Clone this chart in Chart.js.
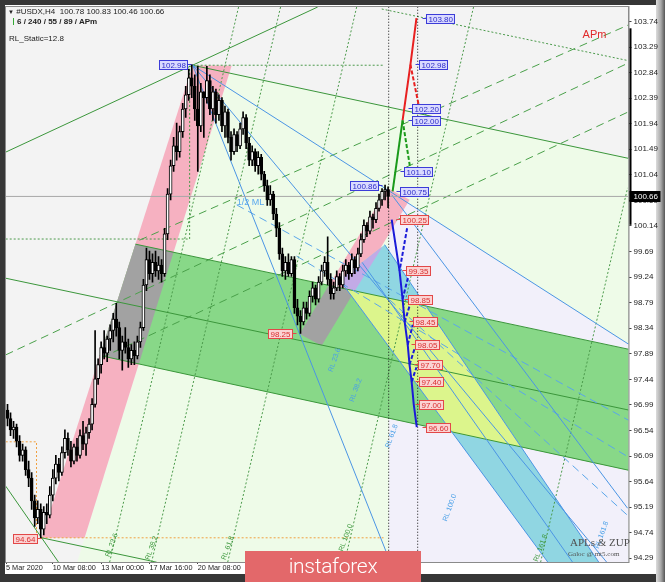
<!DOCTYPE html>
<html>
<head>
<meta charset="utf-8">
<script src="https://cdn.jsdelivr.net/npm/chart.js@4.4.1/dist/chart.umd.min.js"></script>
<style>
  html, body { margin: 0; padding: 0; }
  body { width: 665px; height: 582px; background: #363636; position: relative; overflow: hidden;
         font-family: "Liberation Sans", Arial, sans-serif; }
  #panel { position: absolute; left: 5px; top: 5px; width: 651px; height: 569px; background: #fff; }
  #bevel { position: absolute; left: 656px; top: 0; width: 9px; height: 582px;
           background: linear-gradient(to right, #dcdcdc, #a8a8a8 55%, #555); }
  #chart { position: absolute; left: 0; top: 0; width: 665px; height: 582px; }
  .txt { position: absolute; font-size: 8px; line-height: 10px; color: #222; white-space: nowrap; }
  #logo { position: absolute; left: 245px; top: 551px; width: 176px; height: 33px; background: #e3686a;
          color: #fff; font-family: Roboto, "Open Sans", sans-serif; font-weight: 300; font-size: 21px;
          line-height: 31px; text-align: center; letter-spacing: -0.3px; }
</style>
</head>
<body>
<div id="panel"></div>
<div id="bevel"></div>
<canvas id="chart" width="665" height="582"></canvas>
<div class="txt" style="left:8px;top:7px;"><span style="font-size:6px">&#9660;</span> #USDX,H4&nbsp; 100.78 100.83 100.46 100.66</div>
<div class="txt" style="left:13px;top:18px;width:1px;height:7px;background:#3a3;"></div>
<div class="txt" style="left:17px;top:17px;font-weight:bold;">6 / 240 / 55 / 89 / APm</div>
<div class="txt" style="left:9px;top:34px;">RL_Static=12.8</div>
<div class="txt" style="left:570px;top:537px;font-family:'Liberation Serif',serif;font-size:11px;color:#505050;">APLs &amp; ZUP</div>
<div class="txt" style="left:568px;top:549px;font-family:'Liberation Serif',serif;font-size:7px;color:#505050;">Galoc @ mt5.com</div>
<div id="logo">instaforex</div>
<script>
  'use strict';

  // H4 candles, bar index 0 = first visible bar
  var opens = [96.90, 96.75, 96.55, 96.60, 96.35, 96.10, 96.20, 95.85, 95.70, 95.30,
    95.00, 95.15, 94.80, 95.10, 95.05, 95.40, 95.70, 95.95, 95.80, 96.15,
    96.40, 96.20, 96.00, 96.25, 96.10, 96.45, 96.30, 96.50, 96.65, 97.00,
    97.45, 97.70, 98.00, 97.90, 98.15, 98.30, 98.50, 98.35, 97.95, 98.10,
    98.00, 97.80, 97.95, 97.85, 98.10, 98.35, 99.10, 99.55, 99.30, 99.50,
    99.35, 99.45, 99.30, 100.00, 100.70, 101.20, 101.55, 101.45, 101.80, 102.20,
    102.45, 102.75, 102.60, 102.20, 101.90, 102.50, 102.40, 102.70, 102.20, 102.50,
    102.10, 102.35, 101.90, 102.15, 101.70, 101.45, 101.75, 101.55, 101.85, 102.05,
    101.60, 101.30, 101.45, 101.20, 101.35, 101.05, 100.85, 100.60, 100.70, 100.35,
    100.10, 99.65, 99.35, 99.50, 99.30, 99.55, 98.70, 98.55, 98.45, 98.70,
    98.60, 98.90, 99.05, 98.85, 99.15, 99.35, 99.50, 99.20, 98.95, 99.05,
    99.25, 99.10, 99.35, 99.45, 99.30, 99.55, 99.40, 99.65, 99.90, 100.15,
    100.05, 100.30, 100.25, 100.45, 100.60, 100.75, 100.78];
  var highs = [97.00, 96.85, 96.70, 96.65, 96.45, 96.30, 96.25, 96.00, 95.80, 95.40,
    95.30, 95.25, 95.20, 95.25, 95.55, 95.85, 96.10, 96.05, 96.25, 96.55,
    96.50, 96.35, 96.30, 96.40, 96.55, 96.70, 96.60, 96.75, 97.10, 98.30,
    97.80, 98.10, 98.30, 98.20, 98.40, 98.60, 98.78, 98.45, 98.20, 98.35,
    98.15, 98.05, 98.10, 98.20, 98.45, 99.20, 99.75, 99.70, 99.65, 99.70,
    99.60, 99.55, 100.10, 100.80, 101.30, 101.70, 101.95, 101.90, 102.30, 102.60,
    102.90, 102.98, 102.80, 102.95, 102.65, 102.50, 102.95, 102.80, 102.60, 102.55,
    102.45, 102.40, 102.25, 102.20, 101.80, 101.85, 101.80, 101.95, 102.15, 102.10,
    101.70, 101.55, 101.50, 101.45, 101.40, 101.10, 100.95, 100.85, 100.75, 100.45,
    100.20, 99.75, 99.60, 99.65, 99.60, 99.60, 98.85, 98.65, 98.80, 98.80,
    99.00, 99.15, 99.10, 99.25, 99.45, 99.60, 99.95, 99.30, 99.15, 99.35,
    99.30, 99.45, 99.55, 99.50, 99.65, 99.60, 99.75, 100.00, 100.25, 100.20,
    100.40, 100.35, 100.55, 100.70, 100.80, 100.86, 100.83];
  var lows = [96.62, 96.45, 96.40, 96.25, 96.00, 96.00, 95.75, 95.55, 95.15, 94.85,
    94.90, 94.64, 94.70, 94.90, 95.00, 95.30, 95.60, 95.65, 95.75, 96.05,
    96.10, 95.90, 95.95, 96.00, 96.05, 96.20, 96.10, 96.40, 96.55, 96.95,
    97.35, 97.55, 97.80, 97.75, 97.95, 98.10, 98.20, 97.80, 97.60, 97.90,
    97.65, 97.70, 97.70, 97.80, 98.00, 98.30, 99.00, 99.20, 99.15, 99.25,
    99.20, 99.15, 99.25, 99.90, 100.60, 101.10, 101.30, 101.35, 101.70, 102.05,
    102.35, 102.40, 102.00, 101.10, 101.80, 101.70, 102.30, 102.10, 102.00, 101.95,
    102.00, 101.80, 101.70, 101.60, 101.30, 101.40, 101.45, 101.50, 101.75, 101.50,
    101.20, 101.20, 101.10, 101.05, 100.95, 100.75, 100.50, 100.50, 100.25, 99.95,
    99.55, 99.25, 99.20, 99.25, 99.25, 98.60, 98.40, 98.25, 98.40, 98.50,
    98.55, 98.80, 98.75, 98.80, 99.10, 99.25, 99.10, 98.85, 98.85, 99.00,
    99.00, 99.05, 99.25, 99.20, 99.25, 99.30, 99.35, 99.60, 99.85, 99.95,
    100.00, 100.10, 100.20, 100.40, 100.50, 100.60, 100.46];
  var closes = [96.75, 96.55, 96.60, 96.35, 96.10, 96.20, 95.85, 95.70, 95.30, 95.00,
    95.15, 94.80, 95.10, 95.05, 95.40, 95.70, 95.95, 95.80, 96.15, 96.40,
    96.20, 96.00, 96.25, 96.10, 96.45, 96.30, 96.50, 96.65, 97.00, 97.45,
    97.70, 98.00, 97.90, 98.15, 98.30, 98.50, 98.35, 97.95, 98.10, 98.00,
    97.80, 97.95, 97.85, 98.10, 98.35, 99.10, 99.55, 99.30, 99.50, 99.35,
    99.45, 99.30, 100.00, 100.70, 101.20, 101.55, 101.45, 101.80, 102.20, 102.45,
    102.75, 102.60, 102.20, 101.90, 102.50, 102.40, 102.70, 102.20, 102.50, 102.10,
    102.35, 101.90, 102.15, 101.70, 101.45, 101.75, 101.55, 101.85, 102.05, 101.60,
    101.30, 101.45, 101.20, 101.35, 101.05, 100.85, 100.60, 100.70, 100.35, 100.10,
    99.65, 99.35, 99.50, 99.30, 99.55, 98.70, 98.55, 98.45, 98.70, 98.60,
    98.90, 99.05, 98.85, 99.15, 99.35, 99.50, 99.20, 98.95, 99.05, 99.25,
    99.10, 99.35, 99.45, 99.30, 99.55, 99.40, 99.65, 99.90, 100.15, 100.05,
    100.30, 100.25, 100.45, 100.60, 100.75, 100.78, 100.66];
  var lastPrice = 100.66;

  // axes
  var priceTicks = [94.29, 94.74, 95.19, 95.64, 96.09, 96.54, 96.99, 97.44, 97.89, 98.34, 98.79,
    99.24, 99.69, 100.14, 100.59, 101.04, 101.49, 101.94, 102.39, 102.84, 103.29, 103.74];
  var timeTicks = [-0.5, 15, 31, 47, 63];
  var timeLabels = ['5 Mar 2020', '10 Mar 08:00', '13 Mar 00:00', '17 Mar 16:00', '20 Mar 08:00'];

  // zones and lines, points are [bar, price]
  var lightZone = [[21.7, 93.99], [73.44, 102.83], [207, 101.32], [207, 93.99]];
  var lilacZone = [[126.2, 100.76], [207, 98.01], [207, 93.99], [126.2, 93.99]];
  var pinkChannelA = [[11.29, 94.65], [61.29, 102.97], [74.2, 102.96], [25.53, 94.65]];
  var pinkChannelB = [[96.72, 98.24], [125.86, 100.81], [133.14, 100.60], [104.0, 98.03]];
  var greenBand = [[42.35, 99.82], [207, 97.95], [207, 95.82], [30.56, 97.86]];
  var cyanBand = [[109.96, 99.19], [124.87, 99.81], [198.7, 93.99], [182.1, 93.99]];
  var overlapA = [[42.35, 99.82], [54.99, 99.68], [43.47, 97.71], [30.56, 97.86]];
  var overlapB = [[96.72, 98.24], [106.42, 99.10], [114.99, 99.00], [104.0, 98.03]];
  var overlapC = [[112.18, 99.03], [138.51, 98.73], [170.10, 96.25], [147.15, 96.51]];
  var overlapD = [[109.96, 99.19], [124.2, 99.78], [114.99, 99.00], [112.18, 99.03]];

  var greenLines = [
    [[-0.6, 101.44], [102.7, 103.995]],
    [[61.3, 102.97], [205.6, 101.33]],
    [[42.35, 99.82], [205.6, 97.97]],
    [[-0.6, 99.22], [205.6, 96.90]],
    [[30.56, 97.86], [205.6, 95.84]],
    [[-0.6, 95.56], [16.9, 94.22]],
    [[11.3, 94.65], [49.4, 94.22]]
  ];
  var greenDashed = [
    [[-0.6, 97.87], [205.6, 103.01]],
    [[43.7, 99.89], [205.6, 103.68]],
    [[31.15, 97.82], [205.6, 102.15]]
  ];
  var greenDotted = [
    [[-0.6, 99.91], [60.3, 99.91], [60.3, 102.96]],
    [[61.3, 102.97], [124.5, 102.97]],
    [[123.9, 103.96], [205.6, 103.05]],
    [[33.8, 94.22], [76.5, 103.995]],
    [[47.7, 94.22], [90.4, 103.995]],
    [[72.9, 94.22], [115.6, 103.995]],
    [[111.6, 94.22], [154.3, 103.995]],
    [[176.5, 94.22], [205.3, 100.81]]
  ];
  var orangeDotted = [
    [[-0.6, 96.34], [9.6, 96.34], [9.6, 94.65]],
    [[11.3, 94.65], [124.5, 94.65]]
  ];
  var blueLines = [
    [[61.3, 102.97], [205.6, 98.06]],
    [[61.3, 102.97], [126.75, 94.22]],
    [[61.3, 102.97], [198.4, 94.22]],
    [[109.96, 99.19], [182.1, 93.99]],
    [[124.87, 99.81], [198.7, 93.99]],
    [[117.4, 99.50], [187.1, 94.22]],
    [[127.2, 100.69], [205.3, 95.17]]
  ];
  var blueDashed = [
    [[75.9, 100.51], [205.6, 96.72]],
    [[95.7, 99.61], [205.6, 96.07]],
    [[126.5, 98.84], [205.6, 95.03]]
  ];
  var timeMarks = [126.2, 135.8];

  // ZUP projection
  var upGreen = [[127.5, 100.75], [130.8, 102.00]];
  var upGreenDash = [[130.8, 102.00], [133.5, 101.10]];
  var upRed = [[130.8, 102.00], [133.4, 102.98], [135.4, 103.80]];
  var upRedDash = [[133.4, 102.98], [136.4, 102.20]];
  var downBlue = [[127.2, 100.25], [129.8, 99.35], [130.8, 98.85], [131.5, 98.45], [132.5, 98.05],
    [133.1, 97.70], [133.8, 97.40], [134.5, 97.00], [135.5, 96.60]];
  var downBlueDash = [
    [[132.3, 100.10], [129.8, 99.35]],
    [[130.8, 98.85], [132.9, 99.30]],
    [[131.5, 98.45], [133.5, 98.80]],
    [[132.5, 98.05], [134.2, 98.40]],
    [[133.1, 97.70], [134.9, 98.00]],
    [[133.8, 97.40], [135.4, 97.65]]
  ];

  // price tags: [bar, price]
  var blueTagsRight = [[138.4, 103.80], [136.1, 102.98], [133.8, 102.20], [133.8, 102.00], [131.2, 101.10], [129.8, 100.75]];
  var blueTagsLeft = [[122.5, 100.86], [59.3, 102.98]];
  var redTagsRight = [[129.8, 100.25], [131.8, 99.35], [132.5, 98.85], [134.1, 98.45], [134.8, 98.05],
    [135.8, 97.70], [136.1, 97.40], [136.1, 97.00], [138.4, 96.60]];
  var redTagsLeft = [[94.1, 98.25], [9.6, 94.64]];

  var rlNames = ['RL 23.6', 'RL 38.2', 'RL 61.8', 'RL 100.0', 'RL 161.8'];
  var rlGreenAt = [[34.5, 94.52], [47.7, 94.47], [72.9, 94.47], [112, 94.65], [176.5, 94.47]];
  var rlBlueAt = [[108.3, 97.78], [115.3, 97.25], [127.2, 96.44], [146.4, 95.18], [196.7, 94.70]];
  var rangeBar = [100.16, 103.62];

  var datasets = [];

  function pts(list) {
    return list.map(function (p) { return {x: p[0], y: p[1]}; });
  }
  function addShape(list, color, order) {
    var d = pts(list);
    d.push(d[0]);
    datasets.push({type: 'line', data: d, fill: 'shape', backgroundColor: color,
      borderColor: 'rgba(0,0,0,0)', borderWidth: 1, pointRadius: 0, tension: 0, order: order});
  }
  function addLine(list, color, dash, order, width) {
    datasets.push({type: 'line', data: pts(list), fill: false, borderColor: color,
      borderWidth: width || 1, borderDash: dash || [], pointRadius: 0, tension: 0, order: order});
  }

  addShape(lightZone, '#eefbe8', 200);
  addShape(lilacZone, '#f2f0fa', 199);
  addShape(pinkChannelA, '#f6b1c1', 198);
  addShape(pinkChannelB, '#f6b1c1', 197);
  addShape(greenBand, '#88d888', 196);
  addShape(cyanBand, '#90d6e2', 195);
  addShape(overlapA, '#a2a2a2', 194);
  addShape(overlapB, '#a2a2a2', 193);
  addShape(overlapC, '#dcf58c', 192);
  addShape(overlapD, '#c2aae6', 191);

  greenLines.forEach(function (l) { addLine(l, '#3b963b', null, 150); });
  greenDashed.forEach(function (l) { addLine(l, '#4aa04a', [8, 5], 150); });
  greenDotted.forEach(function (l) { addLine(l, '#4c9a4c', [2, 2], 150); });
  orangeDotted.forEach(function (l) { addLine(l, '#f0a040', [2, 2], 150); });
  blueLines.forEach(function (l) { addLine(l, '#4b95e4', null, 149); });
  blueDashed.forEach(function (l) { addLine(l, '#5aa6ea', [8, 5], 149); });
  addLine([[-0.5, lastPrice], [205.6, lastPrice]], '#a8a8a8', null, 148);
  timeMarks.forEach(function (t) { addLine([[t, 94.0], [t, 104.2]], '#151515', [1, 2], 147); });

  addLine(upGreen, '#1a9a1a', null, 5, 2);
  addLine(upGreenDash, '#1a9a1a', [4, 2], 5, 2);
  addLine(upRed, '#e82020', null, 5, 2);
  addLine(upRedDash, '#e82020', [4, 2], 5, 2);
  addLine(downBlue, '#1a1ad8', null, 5, 2);
  downBlueDash.forEach(function (l) { addLine(l, '#1a1ad8', [4, 2], 5, 2); });

  // candles: wicks behind bodies
  datasets.push({
    type: 'bar', order: 20, grouped: false, barThickness: 1, backgroundColor: '#000',
    data: highs.map(function (h, i) { return {x: i, y: [lows[i], h]}; })
  });
  datasets.push({
    type: 'bar', order: 19, grouped: false, barThickness: 3, borderWidth: 1, borderSkipped: false,
    borderColor: '#000',
    backgroundColor: closes.map(function (c, i) { return c >= opens[i] ? '#ffffff' : '#000000'; }),
    data: opens.map(function (o, i) { return {x: i, y: [o, closes[i]]}; })
  });

  function drawTag(ctx, x, y, text, toRight, blue) {
    ctx.font = '8px "Liberation Sans"';
    var w = Math.round(ctx.measureText(text).width) + 4, h = 9;
    var top = Math.round(y - h / 2) + 0.5;
    var left = toRight ? Math.round(x) + 0.5 : Math.round(x - w) + 0.5;
    ctx.fillStyle = blue ? '#dadaff' : '#fbd3d3';
    ctx.fillRect(left, top, w, h);
    ctx.strokeStyle = blue ? '#3c3cd8' : '#e24848';
    ctx.lineWidth = 1;
    ctx.strokeRect(left, top, w, h);
    ctx.beginPath();
    if (toRight) { ctx.moveTo(left - 4, top + 4); ctx.lineTo(left, top + 4); }
    else { ctx.moveTo(left + w, top + 4); ctx.lineTo(left + w + 4, top + 4); }
    ctx.stroke();
    ctx.fillStyle = blue ? '#2c2cc8' : '#d83030';
    ctx.textBaseline = 'middle';
    ctx.textAlign = 'left';
    ctx.fillText(text, left + 2, top + h / 2 + 0.5);
  }

  function drawRotated(ctx, x, y, text, color) {
    ctx.save();
    ctx.translate(x, y);
    ctx.rotate(-70 * Math.PI / 180);
    ctx.font = '7px "Liberation Sans"';
    ctx.fillStyle = color;
    ctx.textAlign = 'center';
    ctx.textBaseline = 'middle';
    ctx.fillText(text, 0, 0);
    ctx.restore();
  }

  var overlay = {
    id: 'overlay',
    beforeDraw: function (chart) {
      var a = chart.chartArea, c = chart.ctx;
      c.save();
      c.fillStyle = '#f3f3f3';
      c.fillRect(a.left, a.top, a.right - a.left, a.bottom - a.top);
      c.restore();
    },
    afterDatasetsDraw: function (chart) {
      var c = chart.ctx, xs = chart.scales.x, ys = chart.scales.y, a = chart.chartArea;
      c.save();
      c.beginPath();
      c.rect(a.left, a.top, a.right - a.left, a.bottom - a.top);
      c.clip();
      rlGreenAt.forEach(function (p, k) {
        drawRotated(c, xs.getPixelForValue(p[0]), ys.getPixelForValue(p[1]), rlNames[k], '#3f9a3f');
      });
      rlBlueAt.forEach(function (p, k) {
        drawRotated(c, xs.getPixelForValue(p[0]), ys.getPixelForValue(p[1]), rlNames[k], '#4aa0e8');
      });
      c.font = '9px "Liberation Sans"';
      c.fillStyle = '#5aa8ee';
      c.textBaseline = 'middle';
      c.fillText('1/2 ML', xs.getPixelForValue(75.9), ys.getPixelForValue(100.55));
      c.font = '11px "Liberation Sans"';
      c.fillStyle = '#e02a2a';
      c.fillText('APm', xs.getPixelForValue(190.4), ys.getPixelForValue(103.50));
      blueTagsRight.forEach(function (p) {
        drawTag(c, xs.getPixelForValue(p[0]), ys.getPixelForValue(p[1]), p[1].toFixed(2), true, true);
      });
      blueTagsLeft.forEach(function (p) {
        drawTag(c, xs.getPixelForValue(p[0]), ys.getPixelForValue(p[1]), p[1].toFixed(2), false, true);
      });
      redTagsRight.forEach(function (p) {
        drawTag(c, xs.getPixelForValue(p[0]), ys.getPixelForValue(p[1]), p[1].toFixed(2), true, false);
      });
      redTagsLeft.forEach(function (p) {
        drawTag(c, xs.getPixelForValue(p[0]), ys.getPixelForValue(p[1]), p[1].toFixed(2), false, false);
      });
      c.restore();
    },
    afterDraw: function (chart) {
      var c = chart.ctx, ys = chart.scales.y, a = chart.chartArea;
      c.save();
      c.strokeStyle = '#8a8a8a';
      c.lineWidth = 1;
      c.strokeRect(a.left - 0.5, a.top - 0.5, a.right - a.left + 1, a.bottom - a.top + 1);
      // range marker on the price scale
      c.fillStyle = '#000';
      var y1 = ys.getPixelForValue(rangeBar[1]), y2 = ys.getPixelForValue(rangeBar[0]);
      c.fillRect(a.right + 1, y1, 2, y2 - y1);
      // last price tag
      var yp = Math.round(ys.getPixelForValue(lastPrice));
      c.fillStyle = '#000';
      c.fillRect(a.right + 1, yp - 5, 31, 11);
      c.fillStyle = '#fff';
      c.font = '8px "Liberation Sans"';
      c.textBaseline = 'middle';
      c.textAlign = 'left';
      c.fillText(lastPrice.toFixed(2), a.right + 5, yp + 0.5);
      c.restore();
    }
  };

  new Chart(document.getElementById('chart'), {
    type: 'bar',
    data: {datasets: datasets},
    plugins: [overlay],
    options: {
      responsive: false,
      animation: false,
      events: [],
      layout: {padding: {left: 6, top: 7, right: 0, bottom: 8}},
      plugins: {legend: {display: false}, tooltip: {enabled: false}},
      scales: {
        x: {
          type: 'linear', min: -0.5, max: 205.6, offset: false,
          afterBuildTicks: function (scale) {
            scale.ticks = timeTicks.map(function (v) { return {value: v}; });
          },
          afterFit: function (scale) { scale.height = 12; },
          ticks: {
            autoSkip: false, maxRotation: 0, minRotation: 0, align: 'start', padding: 0,
            color: '#222', font: {family: 'Liberation Sans', size: 7.3},
            callback: function (v, idx) { return timeLabels[idx]; }
          },
          grid: {drawOnChartArea: false, offset: false, tickLength: 2, color: '#444'},
          border: {display: true, color: '#8a8a8a'}
        },
        y: {
          type: 'linear', position: 'right', min: 94.224, max: 103.995, beginAtZero: false,
          afterBuildTicks: function (scale) {
            scale.ticks = priceTicks.map(function (v) { return {value: v}; });
          },
          afterFit: function (scale) { scale.width = 36.5; },
          ticks: {
            padding: 2, color: '#222', font: {family: 'Liberation Sans', size: 8},
            callback: function (v) { return Number(v).toFixed(2); }
          },
          grid: {drawOnChartArea: false, tickLength: 3, color: '#444'},
          border: {display: true, color: '#8a8a8a'}
        }
      }
    }
  });
</script>
</body>
</html>
